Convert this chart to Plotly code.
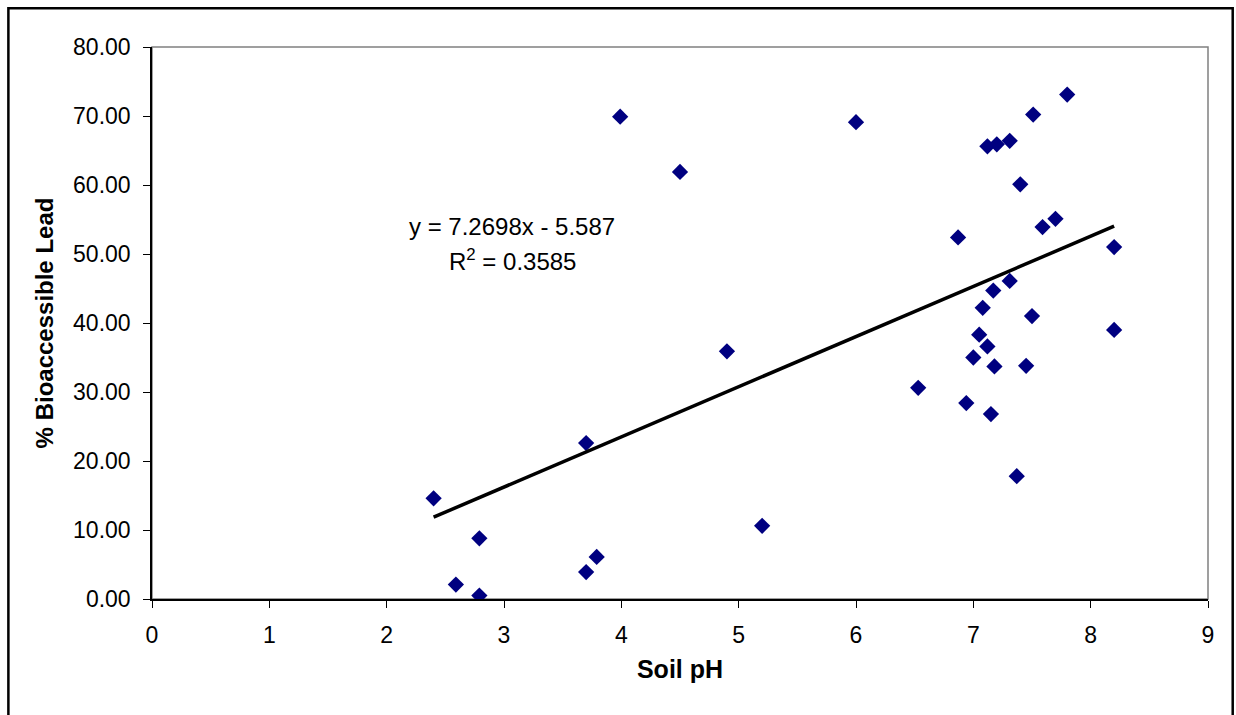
import plotly.graph_objects as go

# Data
soil_ph = [2.40, 2.59, 2.79, 2.79, 3.70, 3.70, 3.79, 3.99, 4.50, 4.90, 5.20, 6.00,
           6.53, 6.87, 6.94, 7.00, 7.05, 7.08, 7.12, 7.12, 7.20, 7.15, 7.18, 7.17,
           7.31, 7.31, 7.37, 7.40, 7.45, 7.50, 7.51, 7.59, 7.70, 7.80, 8.20, 8.20]
bio_lead = [14.6, 2.1, 8.8, 0.5, 22.6, 3.9, 6.1, 69.9, 61.9, 35.9, 10.6, 69.1,
            30.6, 52.4, 28.4, 35.0, 38.3, 42.2, 36.6, 65.6, 65.9, 26.8, 33.7, 44.7,
            66.4, 46.1, 17.8, 60.1, 33.8, 41.0, 70.2, 53.9, 55.1, 73.1, 51.0, 39.0]

slope = 7.2698
intercept = -5.587
r_squared = 0.3585

x_ticks = list(range(0, 10))
y_ticks = [0, 10, 20, 30, 40, 50, 60, 70, 80]

trend_x = [min(soil_ph), max(soil_ph)]
trend_y = [slope * v + intercept for v in trend_x]

FONT = "Liberation Sans, Arial, sans-serif"

fig = go.Figure()
fig.add_trace(go.Scatter(
    x=soil_ph, y=bio_lead, mode="markers",
    marker=dict(symbol="diamond", size=12.5, color="#000080",
                line=dict(width=0)),
    showlegend=False, hoverinfo="x+y"))
fig.add_trace(go.Scatter(
    x=trend_x, y=trend_y, mode="lines",
    line=dict(color="black", width=3.5),
    showlegend=False, hoverinfo="skip"))

fig.add_annotation(x=3.07, y=54.0, xref="x", yref="y",
                   text=f"y = {slope}x - {abs(intercept)}",
                   showarrow=False, font=dict(family=FONT, size=24, color="black"))
fig.add_annotation(x=3.07, y=49.2, xref="x", yref="y",
                   text=f"R<sup>2</sup> = {r_squared}",
                   showarrow=False, font=dict(family=FONT, size=24, color="black"))

# plot-area outline (grey), drawn below the black axes
fig.add_shape(type="rect", xref="paper", yref="paper", x0=0, y0=0, x1=1, y1=1,
              line=dict(color="#808080", width=1.5), layer="below")
# outer chart border
fig.add_shape(type="rect", xref="paper", yref="paper",
              x0=-0.136, y0=-0.23, x1=1.0234, y1=1.0701,
              line=dict(color="black", width=2.5), layer="below")

fig.update_xaxes(range=[0, 9], tickvals=x_ticks, showgrid=False, zeroline=False,
                 showline=True, linecolor="black", linewidth=1.5,
                 ticks="outside", ticklen=7, tickcolor="black", tickwidth=1,
                 tickfont=dict(family=FONT, size=23, color="black"),
                 ticklabelstandoff=8,
                 title=dict(text="<b>Soil pH</b>", standoff=13,
                            font=dict(family=FONT, size=25, color="black")))
fig.update_yaxes(range=[0, 80], tickvals=y_ticks, tickformat=".2f",
                 showgrid=False, zeroline=False,
                 showline=True, linecolor="black", linewidth=1.5,
                 ticks="outside", ticklen=7, tickcolor="black", tickwidth=1,
                 tickfont=dict(family=FONT, size=23, color="black"),
                 ticklabelstandoff=8,
                 title=dict(text="<b>% Bioaccessible Lead</b>", standoff=13,
                            font=dict(family=FONT, size=24, color="black")))

fig.update_layout(width=1236, height=715,
                  margin=dict(l=152, r=28, t=47, b=116, autoexpand=False),
                  plot_bgcolor="white", paper_bgcolor="white",
                  showlegend=False)

fig.write_html("out.html")
